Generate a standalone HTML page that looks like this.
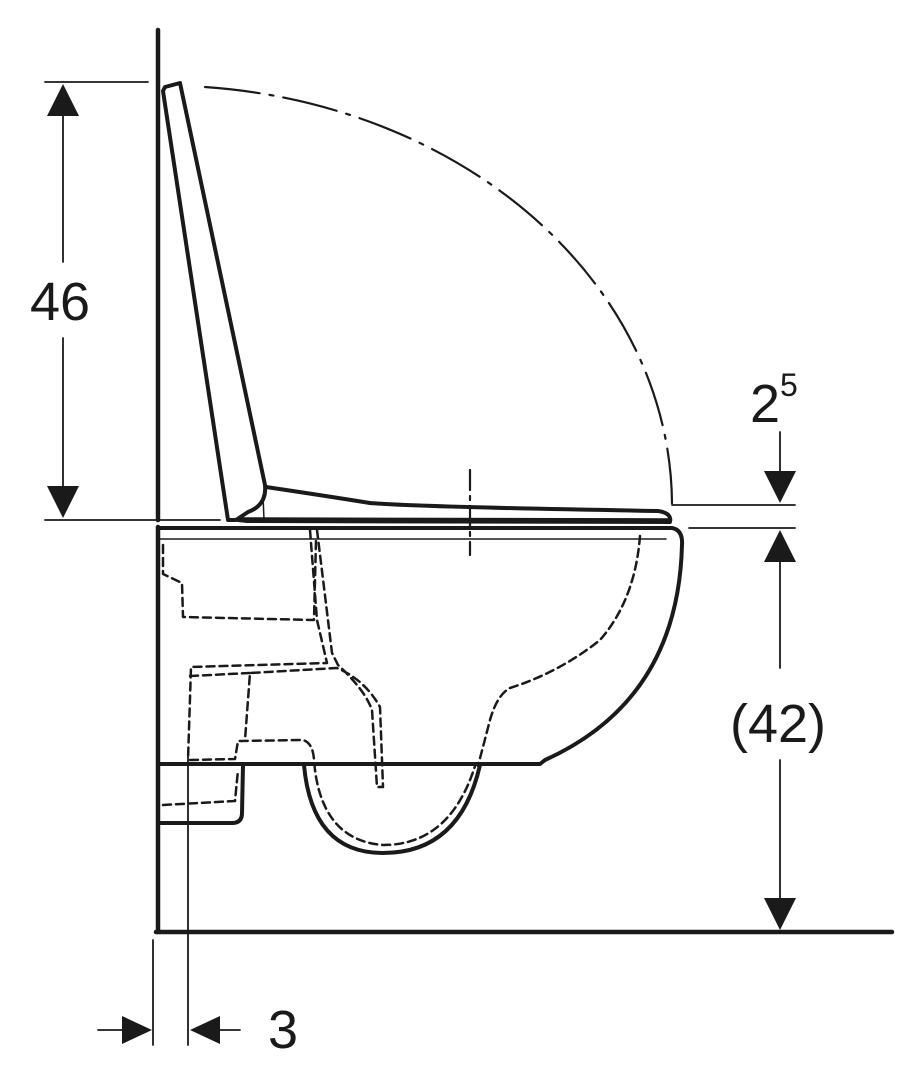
<!DOCTYPE html>
<html><head><meta charset="utf-8"><style>html,body{margin:0;padding:0;background:#fff}svg{display:block}</style></head>
<body>
<svg width="922" height="1074" viewBox="0 0 922 1074" xmlns="http://www.w3.org/2000/svg" font-family="Liberation Sans, sans-serif">
<g fill="none" stroke="#1a1a1a" stroke-linecap="round" stroke-linejoin="round">
<line x1="158" y1="30" x2="158" y2="520" stroke-width="4.5"/>
<line x1="158" y1="527" x2="158" y2="932" stroke-width="4.5"/>
<line x1="156" y1="932" x2="892" y2="932" stroke-width="4.5"/>
<path d="M205 87 A509 420 0 0 1 672 505" stroke-width="2.2" stroke-dasharray="55 10 4 10"/>
<path d="M163 91 L165 87 L180 83 L265 485 Q267 505 248 512 L236 520 L228 520 Z" stroke-width="4" fill="#fff"/>
<path d="M263 495 L264 520" stroke-width="1.5"/>
<path d="M266 487 Q320 495 370 503 Q420 507 658 511 Q672 513 670 522 L247 521 L238 520" stroke-width="4"/>
<path d="M240 519 L670 520" stroke-width="3.5"/>
<path d="M160 528 L672 528 Q683 530 682 545 Q678 700 545 760 L540 764 L160 764" stroke-width="4"/>
<line x1="160" y1="539" x2="666" y2="539" stroke-width="1.5"/>
<path d="M304 765 Q312 853 383 853 Q460 853 480 765" stroke-width="4"/>
<path d="M160 823 L232 823 Q242 823 242 813 L243 765" stroke-width="4"/>
<line x1="470" y1="470" x2="470" y2="555" stroke-width="2.2" stroke-dasharray="20 6 4 6"/>
<g stroke-width="2.5" stroke-dasharray="8 5">
<path d="M163 545 L163 574 L182 583 L183 617 L314 620 L316 540"/>
<path d="M310 530 L317 620 L327 663 L191 667 L188 760"/>
<path d="M317 530 L332 653 L338 665 Q365 690 372 710 L377 787 L383 787 L380 707 Q365 680 337 668 L250 673 L245 740"/>
<path d="M190 676 L250 673"/>
<path d="M190 760 L235 759 L238 741 L303 740 Q313 743 314 760 Q320 840 383 845 Q450 845 475 766"/>
<path d="M163 805 L235 801 L238 770"/>
<path d="M640 536 Q635 600 600 640 Q560 672 510 688 Q497 695 490 720 L478 766"/>
</g>
<g stroke-width="1.8">
<line x1="45" y1="82" x2="148" y2="82"/>
<line x1="45" y1="520" x2="220" y2="520"/>
<line x1="63" y1="110" x2="63" y2="262"/>
<line x1="63" y1="338" x2="63" y2="490"/>
<line x1="672" y1="505" x2="795" y2="505"/>
<line x1="689" y1="528" x2="795" y2="528"/>
<line x1="780" y1="432" x2="780" y2="475"/>
<line x1="780" y1="558" x2="780" y2="668"/>
<line x1="780" y1="760" x2="780" y2="900"/>
<line x1="153" y1="940" x2="153" y2="1045"/>
<line x1="188" y1="752" x2="188" y2="1045"/>
<line x1="98" y1="1030" x2="125" y2="1030"/>
<line x1="218" y1="1030" x2="240" y2="1030"/>
</g>
</g>
<g fill="#1a1a1a">
<polygon points="63,84 47,116 79,116"/>
<polygon points="63,518 47,486 79,486"/>
<polygon points="780,503 764,471 796,471"/>
<polygon points="780,530 764,562 796,562"/>
<polygon points="780,930 764,898 796,898"/>
<polygon points="152,1030 122,1016 122,1044"/>
<polygon points="190,1030 220,1016 220,1044"/>
</g>
<g fill="#1a1a1a" font-size="54">
<text x="60" y="320" text-anchor="middle">46</text>
<text x="778" y="742" text-anchor="middle">(42)</text>
<text x="750" y="422">2</text>
<text x="780" y="396" font-size="32">5</text>
<text x="268" y="1048">3</text>
</g>
</svg>
</body></html>
